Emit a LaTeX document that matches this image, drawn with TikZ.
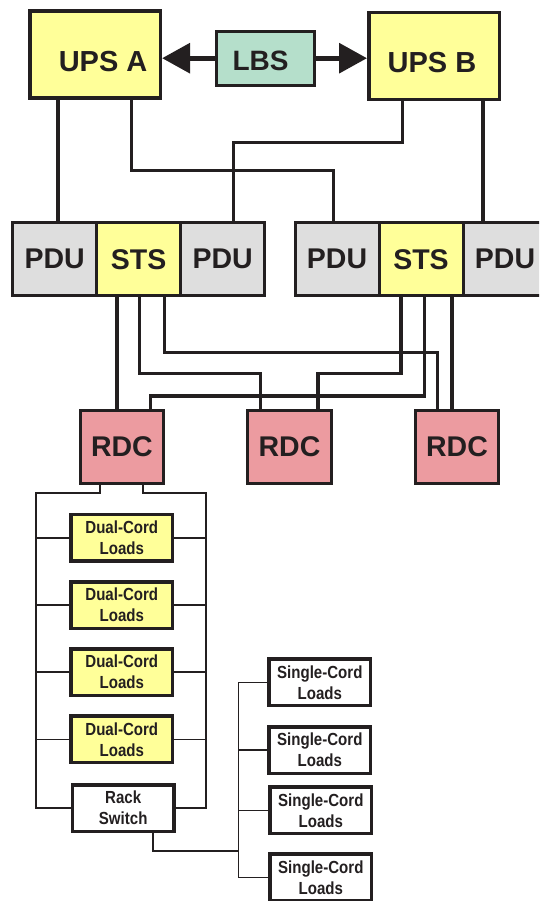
\documentclass[tikz,border=0pt]{standalone}
\usepackage{fontspec}
\setmainfont{Liberation Sans}
\newfontfamily\narrowfont[FakeStretch=0.86]{Liberation Sans}
\usetikzlibrary{arrows.meta,matrix}

\definecolor{inkblack}{HTML}{231F20}
\definecolor{upsyellow}{HTML}{FFFF99}
\definecolor{lbsgreen}{HTML}{B5DFCB}
\definecolor{pdugray}{HTML}{DEDEDE}
\definecolor{rdcpink}{HTML}{EC9BA0}

\begin{document}
\begin{tikzpicture}[
    x=1pt, y=-1pt,
    bigfont/.style={
        font=\fontsize{28.5}{30}\selectfont\bfseries,
        text=inkblack,
        },
    smallfont/.style={
        font=\narrowfont\fontsize{17.5}{21}\selectfont\bfseries,
        text=inkblack,
        align=center,
        },
    unitbox/.style={
        draw=inkblack,
        rectangle,
        anchor=center,
        inner sep=0pt,
        },
    upsnode/.style={
        unitbox,
        fill=upsyellow,
        line width=3.5pt,
        minimum width=130.5pt,
        minimum height=87pt,
        },
    upstext/.style={
        font=\fontsize{29}{30}\selectfont\bfseries,
        text=inkblack,
        },
    lbsnode/.style={
        unitbox,
        fill=lbsgreen,
        line width=3pt,
        minimum width=98.4pt,
        minimum height=53.7pt,
        },
    pdunode/.style={
        unitbox,
        bigfont,
        fill=pdugray,
        line width=3pt,
        minimum width=84pt,
        minimum height=73pt,
        },
    pdurow/.style={
        matrix of nodes,
        nodes = pdunode,
        column sep = -3pt,
        inner sep = 0pt,
        column 2/.style={nodes={fill=upsyellow}},
        },
    rdcnode/.style={
        unitbox,
        bigfont,
        fill=rdcpink,
        line width=3pt,
        minimum width=83.3pt,
        minimum height=72.5pt,
        },
    loadnode/.style={
        unitbox,
        smallfont,
        fill=white,
        line width=3.5pt,
        minimum width=101.5pt,
        minimum height=46.5pt,
        },
    dualnode/.style={loadnode, fill=upsyellow},
    feed/.style={draw=inkblack, line width=4pt},
    crossfeed/.style={draw=inkblack, line width=3.2pt},
    cord/.style={draw=inkblack, line width=1.6pt},
    tie/.style={draw=inkblack, line width=4.8pt, -{Triangle[length=28pt,width=29.5pt]}},
]

\useasboundingbox (0,0) rectangle (539,901);
\clip (0,0) rectangle (539,901);

% UPS pair and the load bank switch between them
\node[upsnode, label={[upstext, name=upsAlabel, xshift=8pt, yshift=-7pt]center:UPS A}] (upsA) at (95.1,54.5) {};
\node[upsnode, label={[upstext, name=upsBlabel, xshift=-2pt, yshift=-6pt]center:UPS B}] (upsB) at (434,56.2) {};
\node[lbsnode, label={[bigfont, font=\fontsize{28}{30}\selectfont\bfseries, name=lbslabel, xshift=-5pt, yshift=-2.5pt]center:LBS}] (lbs) at (265.5,58.2) {};

\draw[tie] (lbs.west) -- (lbs.west -| upsA.east);
\draw[tie] (lbs.east) -- (lbs.east -| upsB.west);

% PDU / STS / PDU groups
\matrix (groupA) [pdurow] at (138.6,259.3) {
    PDU & STS & PDU \\
};
\matrix (groupB) [pdurow] at (421,259.3) {
    PDU & STS & PDU \\
};

% rack distribution cabinets
\node[rdcnode] (rdcA) at (121.9,446.8) {RDC};
\node[rdcnode] (rdcB) at (289.5,446.8) {RDC};
\node[rdcnode] (rdcC) at (457,446.8) {RDC};

% UPS outputs down to the PDUs
\coordinate (upsA-1) at ([xshift=-37.4pt]upsA.south);
\coordinate (upsA-2) at ([xshift=36.2pt]upsA.south);
\coordinate (upsB-1) at ([xshift=-31.3pt]upsB.south);
\coordinate (upsB-2) at ([xshift=48.8pt]upsB.south);

\draw[feed] (upsA-1) -- (upsA-1 |- groupA-1-1.north);
\draw[feed] (upsB-2) -- (upsB-2 |- groupB-1-3.north);
\draw[crossfeed] (upsA-2) -- ++(0,71.1) -| ([xshift=-3.7pt]groupB-1-1.north);
\draw[crossfeed] (upsB-1) -- ++(0,41.2) -| ([xshift=11.1pt]groupA-1-3.north);

% STS outputs down to the RDCs
\coordinate (stsA-1) at ([xshift=-21.8pt]groupA-1-2.south);
\coordinate (stsA-2) at ([xshift=0.6pt]groupA-1-2.south);
\coordinate (stsA-3) at ([xshift=25.7pt]groupA-1-2.south);
\coordinate (stsB-1) at ([xshift=-20pt]groupB-1-2.south);
\coordinate (stsB-2) at ([xshift=3.7pt]groupB-1-2.south);
\coordinate (stsB-3) at ([xshift=31.2pt]groupB-1-2.south);

\draw[feed] (stsA-1) -- (stsA-1 |- rdcA.north);
\draw[crossfeed] (stsA-2) -- ++(0,76.2) -| ([xshift=-29pt]rdcB.north);
\draw[crossfeed] (stsA-3) -- ++(0,54.9) -| ([xshift=-19.5pt]rdcC.north);
\draw[crossfeed] (stsB-1) -- ++(0,76.2) -| ([xshift=28.4pt]rdcB.north);
\draw[crossfeed] (stsB-2) -- ++(0,98.6) -| ([xshift=28.3pt]rdcA.north);
\draw[feed] (stsB-3) -- (stsB-3 |- rdcC.north);

% rack loads
\foreach \i/\y in {1/537.7, 2/605, 3/672.2, 4/739.3}
    \node[dualnode] (dual\i) at (121.8,\y) {Dual-Cord\\Loads};
\node[loadnode] (rack) at (123.2,808) {Rack\\Switch};
\foreach \i/\x/\y in {1/319.8/682.3, 2/319.8/750, 3/320.8/810.3, 4/320.8/877.3}
    \node[loadnode] (single\i) at (\x,\y) {Single-Cord\\Loads};

\coordinate (busL) at (36,493);
\coordinate (busR) at (206,493);
\coordinate (busS) at (238.3,851);

\draw[cord] ([xshift=-22pt]rdcA.south) |- (busL) |- (rack.west);
\draw[cord] ([xshift=21pt]rdcA.south) |- (busR) |- (rack.east);
\foreach \i in {1,...,4} {
    \draw[cord] (dual\i.west) -- (dual\i.west -| busL);
    \draw[cord] (dual\i.east) -- (dual\i.east -| busR);
}

\draw[cord] ([xshift=29.5pt]rack.south) |- (busS);
\draw[cord] (single1.west -| busS) -- (single4.west -| busS);
\foreach \i in {1,...,4}
    \draw[cord] (single\i.west) -- (single\i.west -| busS);

\end{tikzpicture}
\end{document}
